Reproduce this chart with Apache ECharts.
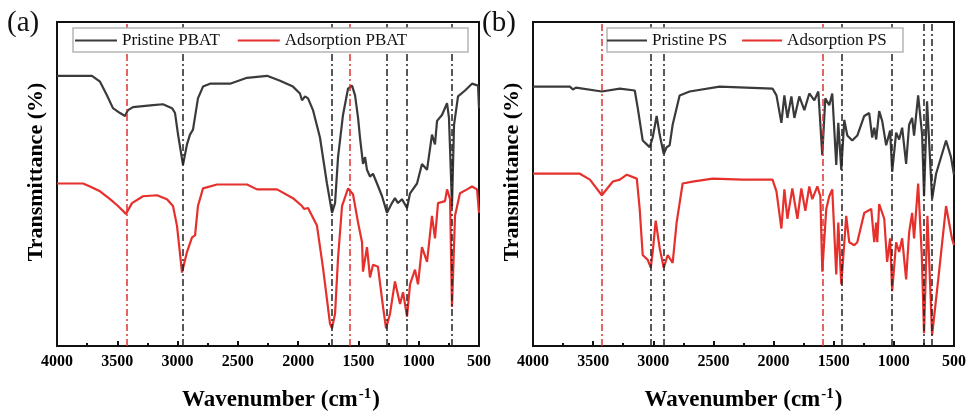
<!DOCTYPE html>
<html><head><meta charset="utf-8">
<script src="https://cdn.jsdelivr.net/npm/echarts@6/dist/echarts.min.js"></script>
<style>html,body{margin:0;padding:0;background:#fff}#c{width:969px;height:417px}</style>
</head><body><div id="c"></div>
<script>
// ---- data (wavenumber in cm-1, transmittance in arbitrary offset units) ----
const xTickValues = [4000, 3500, 3000, 2500, 2000, 1500, 1000, 500];

const pbatPristineWave = [4000,3710,3643,3585,3536,3477,3436,3411,3370,3204,3121,3046,3021,2996,2955,2922,2897,2872,2831,2789,2731,2565,2424,2258,2150,2043,1985,1968,1943,1918,1877,1819,1761,1719,1694,1669,1628,1586,1553,1528,1503,1487,1462,1445,1429,1404,1379,1346,1304,1263,1222,1197,1172,1139,1097,1072,1014,973,931,890,865,848,807,765,749,724,707,674,616,558,508,500];
const pbatPristineT = [276,276,270,256,243,238,235,241,244,246,247,243,238,216,185,206,216,221,253,265,268,268,274,276,271,265,258,251,255,253,241,213,166,136,146,193,236,263,266,256,233,213,186,193,180,173,176,166,153,136,146,151,146,150,141,156,166,186,180,216,206,230,236,248,233,143,226,255,261,268,266,243];

const pbatAdsorbWave = [4000,3784,3726,3643,3560,3494,3428,3378,3287,3171,3088,3038,3005,2963,2922,2880,2855,2831,2789,2673,2424,2341,2175,2043,1968,1951,1918,1844,1794,1736,1719,1694,1669,1636,1586,1545,1503,1470,1462,1429,1404,1379,1338,1296,1271,1238,1197,1155,1130,1097,1072,1031,1006,973,931,890,865,840,782,765,740,724,699,658,599,558,516,500];
const pbatAdsorbT = [166,166,163,158,150,143,135,146,153,154,150,143,123,75,96,111,113,143,161,165,165,160,160,151,143,140,141,123,80,23,18,33,90,143,161,155,126,106,76,101,70,83,81,40,18,33,66,43,55,30,63,78,63,101,86,133,110,146,148,160,150,40,133,156,160,163,160,136];

const psPristineWave = [4000,3693,3668,3643,3428,3278,3154,3129,3088,3054,3030,3005,2972,2947,2913,2889,2864,2839,2781,2698,2449,2009,1976,1935,1910,1885,1852,1827,1786,1744,1703,1661,1628,1595,1570,1537,1512,1479,1462,1437,1412,1387,1346,1304,1246,1205,1180,1163,1147,1122,1097,1064,1031,1014,981,956,931,898,873,848,832,798,765,749,724,682,649,566,525,500];
const psPristineT = [265,265,262,264,260,263,261,243,210,206,203,213,235,216,196,203,205,226,256,260,265,263,256,228,256,233,255,233,255,241,258,251,260,195,253,246,258,185,228,180,231,215,210,215,235,238,213,223,211,240,230,205,220,178,218,211,223,186,226,233,215,256,216,153,250,150,176,210,193,175];

const psAdsorbWave = [4000,3610,3527,3428,3336,3278,3220,3137,3113,3088,3046,3021,3005,2980,2947,2913,2880,2839,2806,2756,2673,2507,2258,2009,1976,1935,1910,1885,1844,1802,1769,1736,1703,1678,1636,1611,1595,1562,1537,1512,1479,1462,1437,1396,1371,1329,1304,1246,1188,1163,1147,1138,1122,1080,1056,1031,1014,981,956,931,898,873,848,832,798,768,749,721,682,624,566,517,500];
const psAdsorbT = [176,176,170,154,168,170,175,171,140,93,88,80,96,128,100,80,93,85,126,166,168,171,170,170,158,120,160,130,161,130,161,138,163,150,163,153,76,140,153,160,73,126,63,133,106,103,106,136,140,106,126,106,145,130,86,110,56,106,96,110,68,116,136,110,166,93,13,133,11,76,143,110,103];

const pbatPeaksBlack = [2953, 1719, 1263, 1097, 723];
const pbatPeaksRed = [3423, 1575];
const psPeaksBlack = [3025, 2915, 1437, 1015, 750, 685];
const psPeaksRed = [3430, 1595];

// ---- chart ----
const FONT = '"Liberation Serif", "DejaVu Serif", serif';
const BLACK = '#3a3a3a', RED = '#e5302c';
const zip = (a, b) => a.map((v, i) => [v, b[i]]);

function xAxisFor(gi, shift) {
  return {
    type: 'value', gridIndex: gi, inverse: true, min: 500, max: 4000, interval: 500,
    name: '{t|Wavenumber (cm}{s|-1}{t|)}', nameLocation: 'middle', nameGap: 38,
    nameTextStyle: { padding: [0, 0, 0, shift], rich: {
      t: { fontFamily: FONT, fontWeight: 'bold', fontSize: 23, color: '#000', verticalAlign: 'bottom', lineHeight: 28 },
      s: { fontFamily: FONT, fontWeight: 'bold', fontSize: 15, color: '#000', verticalAlign: 'bottom', lineHeight: 28, padding: [0, 1, 10, 1] }
    }},
    axisLine: { show: true, onZero: false, lineStyle: { color: '#111', width: 2 } },
    axisTick: { show: true, inside: true, length: 5, lineStyle: { color: '#111', width: 2 } },
    minorTick: { show: true, splitNumber: 2, length: 3, lineStyle: { color: '#111', width: 2 } },
    axisLabel: { fontFamily: FONT, fontWeight: 'bold', fontSize: 16, color: '#000', margin: 8,
      formatter: v => xTickValues.includes(v) ? String(v) : '' },
    splitLine: { show: false }
  };
}
function yAxisFor(gi) {
  return {
    type: 'value', gridIndex: gi, min: 0, max: 331,
    axisLine: { show: true, lineStyle: { color: '#111', width: 2 } },
    axisTick: { show: false }, axisLabel: { show: false }, splitLine: { show: false }
  };
}
function dashLines(blacks, reds) {
  const d = [];
  blacks.forEach(v => d.push({ xAxis: v, lineStyle: { color: '#222', type: [7, 3, 2, 3], width: 1.5 } }));
  reds.forEach(v => d.push({ xAxis: v, lineStyle: { color: '#e03030', type: [7, 3, 2, 3], width: 1.5 } }));
  return { silent: true, symbol: 'none', label: { show: false }, data: d, animation: false };
}
function lineSeries(name, gi, wave, t, color, ml) {
  const s = {
    name, type: 'line', xAxisIndex: gi, yAxisIndex: gi, data: zip(wave, t),
    symbol: 'none', lineStyle: { color, width: 2.2 }, itemStyle: { color }, animation: false
  };
  if (ml) s.markLine = ml;
  return s;
}

const legendText = { fontFamily: FONT, fontSize: 17, color: '#111' };
const yTitle = (x) => ({
  type: 'text', z: 20, x: x, y: 172, rotation: Math.PI / 2,
  style: { text: 'Transmittance (%)', fontFamily: FONT, fontWeight: 'bold', fontSize: 22, fill: '#000',
    textAlign: 'center', textVerticalAlign: 'middle' }
});
const option = {
  backgroundColor: '#fff',
  animation: false,
  grid: [
    { left: 57, right: 490, top: 22, bottom: 64, show: true, borderColor: '#111', borderWidth: 2 },
    { left: 533, right: 14, top: 22, bottom: 64, show: true, borderColor: '#111', borderWidth: 2 }
  ],
  xAxis: [xAxisFor(0, 26), xAxisFor(1, 0)],
  yAxis: [yAxisFor(0), yAxisFor(1)],
  legend: [
    { left: 73, top: 30, z: 20, icon: 'rect', itemWidth: 42, itemHeight: 2, itemGap: 18, padding: 2,
      data: ['Pristine PBAT', 'Adsorption PBAT'], textStyle: legendText },
    { left: 605, top: 30, z: 20, icon: 'rect', itemWidth: 40, itemHeight: 2, itemGap: 15, padding: 2,
      data: ['Pristine PS', 'Adsorption PS'], textStyle: legendText }
  ],
  graphic: [
    { type: 'rect', z: 15, shape: { x: 73, y: 28, width: 395, height: 24 }, style: { fill: '#fff', stroke: '#b5b5b5', lineWidth: 1.5 } },
    { type: 'rect', z: 15, shape: { x: 607, y: 28, width: 296, height: 24 }, style: { fill: '#fff', stroke: '#b5b5b5', lineWidth: 1.5 } },
    { type: 'text', z: 20, left: 7, top: 9, style: { text: '(a)', fontFamily: FONT, fontSize: 29, fill: '#111' } },
    { type: 'text', z: 20, left: 482, top: 9, style: { text: '(b)', fontFamily: FONT, fontSize: 29, fill: '#111' } },
    yTitle(36),
    yTitle(512)
  ],
  series: [
    lineSeries('Pristine PBAT', 0, pbatPristineWave, pbatPristineT, BLACK, dashLines(pbatPeaksBlack, pbatPeaksRed)),
    lineSeries('Adsorption PBAT', 0, pbatAdsorbWave, pbatAdsorbT, RED),
    lineSeries('Pristine PS', 1, psPristineWave, psPristineT, BLACK, dashLines(psPeaksBlack, psPeaksRed)),
    lineSeries('Adsorption PS', 1, psAdsorbWave, psAdsorbT, RED)
  ]
};
const chart = echarts.init(document.getElementById('c'), null, { renderer: 'canvas' });
chart.setOption(option);
</script>
</body></html>
